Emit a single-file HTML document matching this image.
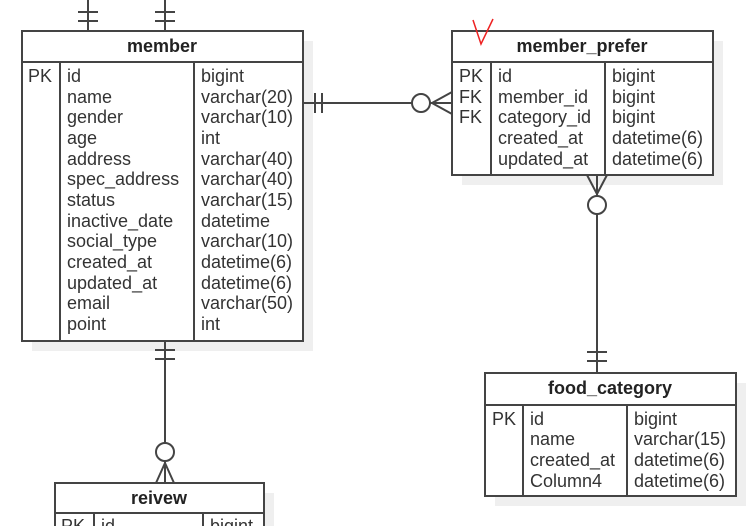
<!DOCTYPE html>
<html><head><meta charset="utf-8"><style>
html,body{margin:0;padding:0;background:#fff;}
svg{display:block}
text{font-family:"Liberation Sans",sans-serif;font-size:18px;fill:#333;}
.h{font-weight:bold;text-anchor:middle;fill:#222}
</style></head><body>
<svg width="755" height="526" viewBox="0 0 755 526" xmlns="http://www.w3.org/2000/svg">
<g fill="#efefef">
<rect x="32" y="41" width="281" height="310"/>
<rect x="462" y="41" width="261" height="144"/>
<rect x="495" y="383" width="251" height="123"/>
<rect x="65" y="493" width="209" height="40"/>
</g>
<g stroke="#444" stroke-width="2" fill="#fff">
<rect x="22" y="31" width="281" height="310"/>
<rect x="452" y="31" width="261" height="144"/>
<rect x="485" y="373" width="251" height="123"/>
<rect x="55" y="483" width="209" height="50"/>
</g>
<g stroke="#444" stroke-width="2" fill="none">
<line x1="22" y1="62" x2="303" y2="62"/><line x1="60" y1="62" x2="60" y2="341"/><line x1="194" y1="62" x2="194" y2="341"/>
<line x1="452" y1="62" x2="713" y2="62"/><line x1="491" y1="62" x2="491" y2="175"/><line x1="605" y1="62" x2="605" y2="175"/>
<line x1="485" y1="405" x2="736" y2="405"/><line x1="523" y1="405" x2="523" y2="496"/><line x1="627" y1="405" x2="627" y2="496"/>
<line x1="55" y1="513" x2="264" y2="513"/><line x1="94" y1="513" x2="94" y2="526"/><line x1="203" y1="513" x2="203" y2="526"/>
<line x1="88" y1="0" x2="88" y2="31"/><line x1="78" y1="12" x2="98" y2="12"/><line x1="78" y1="21" x2="98" y2="21"/>
<line x1="165" y1="0" x2="165" y2="31"/><line x1="155" y1="12" x2="175" y2="12"/><line x1="155" y1="21" x2="175" y2="21"/>
<line x1="303" y1="103" x2="412" y2="103"/><line x1="315" y1="93" x2="315" y2="113"/><line x1="322" y1="93" x2="322" y2="113"/>
<circle cx="421" cy="103" r="9" fill="#fff"/>
<line x1="430" y1="103" x2="452" y2="103"/><line x1="432" y1="103" x2="452" y2="92"/><line x1="432" y1="103" x2="452" y2="114"/>
<line x1="597" y1="175" x2="597" y2="196"/><line x1="587" y1="175" x2="597" y2="194"/><line x1="607" y1="175" x2="597" y2="194"/>
<circle cx="597" cy="205" r="9" fill="#fff"/>
<line x1="597" y1="214" x2="597" y2="373"/><line x1="587" y1="352" x2="607" y2="352"/><line x1="587" y1="361" x2="607" y2="361"/>
<line x1="165" y1="341" x2="165" y2="443"/><line x1="155" y1="350" x2="175" y2="350"/><line x1="155" y1="359" x2="175" y2="359"/>
<circle cx="165" cy="452" r="9" fill="#fff"/>
<line x1="165" y1="461" x2="165" y2="483"/><line x1="165" y1="463" x2="156" y2="483"/><line x1="165" y1="463" x2="174" y2="483"/>
</g>
<path d="M473 20 L481 44 L493 19" stroke="#e22" stroke-width="1.5" fill="none"/>
<text class="h" x="162" y="52">member</text>
<text class="h" x="582" y="52">member_prefer</text>
<text class="h" x="610" y="394">food_category</text>
<text class="h" x="159" y="504">reivew</text>
<g>
<text x="28" y="82">PK</text>
<text x="67" y="82">id</text><text x="201" y="82">bigint</text>
<text x="67" y="103">name</text><text x="201" y="103">varchar(20)</text>
<text x="67" y="123">gender</text><text x="201" y="123">varchar(10)</text>
<text x="67" y="144">age</text><text x="201" y="144">int</text>
<text x="67" y="165">address</text><text x="201" y="165">varchar(40)</text>
<text x="67" y="185">spec_address</text><text x="201" y="185">varchar(40)</text>
<text x="67" y="206">status</text><text x="201" y="206">varchar(15)</text>
<text x="67" y="227">inactive_date</text><text x="201" y="227">datetime</text>
<text x="67" y="247">social_type</text><text x="201" y="247">varchar(10)</text>
<text x="67" y="268">created_at</text><text x="201" y="268">datetime(6)</text>
<text x="67" y="289">updated_at</text><text x="201" y="289">datetime(6)</text>
<text x="67" y="309">email</text><text x="201" y="309">varchar(50)</text>
<text x="67" y="330">point</text><text x="201" y="330">int</text>
</g>
<g>
<text x="459" y="82">PK</text><text x="459" y="103">FK</text><text x="459" y="123">FK</text>
<text x="498" y="82">id</text><text x="612" y="82">bigint</text>
<text x="498" y="103">member_id</text><text x="612" y="103">bigint</text>
<text x="498" y="123">category_id</text><text x="612" y="123">bigint</text>
<text x="498" y="144">created_at</text><text x="612" y="144">datetime(6)</text>
<text x="498" y="165">updated_at</text><text x="612" y="165">datetime(6)</text>
</g>
<g>
<text x="492" y="425">PK</text>
<text x="530" y="425">id</text><text x="634" y="425">bigint</text>
<text x="530" y="445">name</text><text x="634" y="445">varchar(15)</text>
<text x="530" y="466">created_at</text><text x="634" y="466">datetime(6)</text>
<text x="530" y="487">Column4</text><text x="634" y="487">datetime(6)</text>
</g>
<g>
<text x="61" y="532">PK</text><text x="101" y="532">id</text><text x="210" y="532">bigint</text>
</g>
</svg>
</body></html>
